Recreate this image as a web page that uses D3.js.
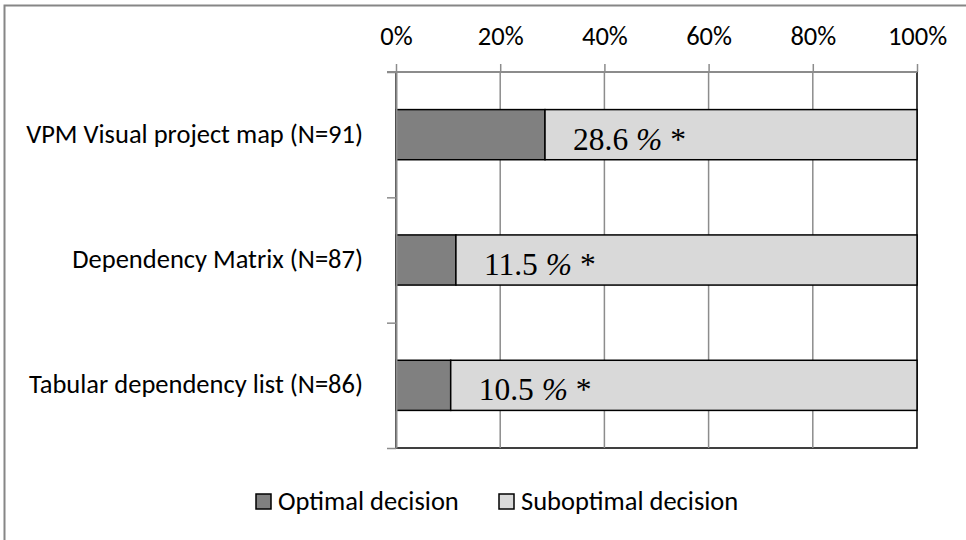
<!DOCTYPE html>
<html>
<head>
<meta charset="utf-8">
<script src="https://cdn.jsdelivr.net/npm/d3@7"></script>
<style>
  html, body { margin: 0; padding: 0; background: #fff; }
  svg { display: block; }
</style>
</head>
<body>
<svg id="chart" width="966" height="540"></svg>
<script>
// Decision outcome per visualisation type (share of participants, %)
const categories = [
  "VPM Visual project map (N=91)",
  "Dependency Matrix (N=87)",
  "Tabular dependency list (N=86)"
];
const optimal = [28.6, 11.5, 10.5];
const suboptimal = [71.4, 88.5, 89.5];
const seriesNames = ["Optimal decision", "Suboptimal decision"];
const tickValues = [0, 20, 40, 60, 80, 100];
const tickLabels = ["0%", "20%", "40%", "60%", "80%", "100%"];

const colors = ["#808080", "#d9d9d9"];
const sansFont = "Carlito, Calibri, Lato, sans-serif";
const serifFont = "'Liberation Serif', 'Times New Roman', serif";
const sansSize = 26.5;

const svg = d3.select("#chart");

// Outer chart frame (left and top edges visible)
svg.append("path")
  .attr("d", "M4.5,540 V5.5 H966")
  .attr("fill", "none")
  .attr("stroke", "#868686")
  .attr("stroke-width", 2);

const plot = { left: 396, right: 917, top: 72, bottom: 448 };

const x = d3.scaleLinear().domain([0, 100]).range([plot.left, plot.right]);
const y = d3.scaleBand().domain(categories)
  .range([plot.top, plot.bottom])
  .paddingInner(0.6).paddingOuter(0.3);

// Plot area border (right and bottom show through)
svg.append("rect")
  .attr("x", plot.left).attr("y", plot.top)
  .attr("width", plot.right - plot.left).attr("height", plot.bottom - plot.top)
  .attr("fill", "#fff").attr("stroke", "#000").attr("stroke-width", 1.5);

// Vertical gridlines
svg.append("g")
  .selectAll("line")
  .data(tickValues.slice(1, -1))
  .join("line")
  .attr("x1", d => x(d)).attr("x2", d => x(d))
  .attr("y1", plot.top).attr("y2", plot.bottom)
  .attr("stroke", "#8c8c8c").attr("stroke-width", 1.5);

// Stacked bars
const stackData = categories.map((c, i) => ({ cat: c, opt: optimal[i], sub: suboptimal[i] }));
const stack = d3.stack().keys(["opt", "sub"])(stackData);

svg.append("g")
  .selectAll("g")
  .data(stack)
  .join("g")
  .attr("fill", (d, i) => colors[i])
  .selectAll("rect")
  .data(d => d)
  .join("rect")
  .attr("x", d => x(d[0]))
  .attr("y", d => y(d.data.cat))
  .attr("width", d => x(d[1]) - x(d[0]))
  .attr("height", y.bandwidth())
  .attr("stroke", "#000")
  .attr("stroke-width", 1.5);

// Value labels for the optimal share
const vl = svg.append("g")
  .selectAll("text")
  .data(stackData)
  .join("text")
  .attr("x", d => x(d.opt) + 28)
  .attr("y", d => y(d.cat) + y.bandwidth() / 2 + 15)
  .attr("font-family", serifFont)
  .attr("font-size", 31.5)
  .attr("fill", "#000");
vl.append("tspan").text(d => d.opt.toFixed(1) + " ");
vl.append("tspan").attr("font-style", "italic").text("%");
vl.append("tspan").text(" *");

// Top axis with percentage ticks
const xAxis = d3.axisTop(x)
  .tickValues(tickValues)
  .tickFormat((d, i) => tickLabels[i])
  .tickSizeInner(8)
  .tickSizeOuter(0)
  .tickPadding(19);

const gx = svg.append("g")
  .attr("transform", `translate(0,${plot.top})`)
  .call(xAxis);
gx.select(".domain").remove();
gx.append("line")
  .attr("x1", plot.left - 9).attr("x2", plot.right)
  .attr("y1", 0).attr("y2", 0)
  .attr("stroke", "#8c8c8c").attr("stroke-width", 2);
gx.selectAll(".tick line").attr("stroke", "#8c8c8c").attr("stroke-width", 1.5);
gx.selectAll(".tick text")
  .attr("font-family", sansFont)
  .attr("font-size", sansSize)
  .attr("fill", "#000");

// Left axis: ticks on category boundaries
const yb = d3.scaleLinear().domain([0, categories.length]).range([plot.top, plot.bottom]);
const gy = svg.append("g")
  .attr("transform", `translate(${plot.left},0)`)
  .call(d3.axisLeft(yb).ticks(categories.length).tickFormat("").tickSizeInner(9).tickSizeOuter(0));
gy.select(".domain").attr("stroke", "#8c8c8c").attr("stroke-width", 2);
gy.selectAll(".tick line").attr("stroke", "#8c8c8c").attr("stroke-width", 1.5);

// Category labels
svg.append("g")
  .selectAll("text")
  .data(categories)
  .join("text")
  .attr("x", 363)
  .attr("y", d => y(d) + y.bandwidth() / 2 + 8)
  .attr("text-anchor", "end")
  .attr("font-family", sansFont)
  .attr("font-size", sansSize)
  .attr("fill", "#000")
  .text(d => d);

// Legend
const legendItems = [
  { name: seriesNames[0], color: colors[0], x: 256 },
  { name: seriesNames[1], color: colors[1], x: 499 }
];
const lg = svg.append("g")
  .selectAll("g")
  .data(legendItems)
  .join("g")
  .attr("transform", d => `translate(${d.x},494)`);
lg.append("rect")
  .attr("width", 15).attr("height", 15)
  .attr("fill", d => d.color)
  .attr("stroke", "#000").attr("stroke-width", 1.5);
lg.append("text")
  .attr("x", 22).attr("y", 16)
  .attr("font-family", sansFont)
  .attr("font-size", sansSize)
  .attr("fill", "#000")
  .text(d => d.name);
</script>
</body>
</html>
